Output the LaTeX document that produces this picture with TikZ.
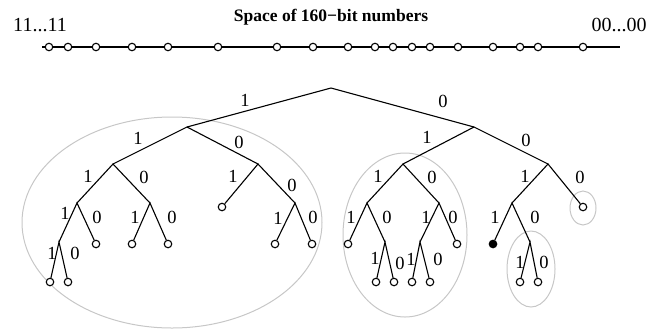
\documentclass[tikz,border=0pt]{standalone}
\usepackage{fontspec}
\setmainfont{Liberation Serif}
\begin{document}
\begin{tikzpicture}[x=1pt,y=-1pt,
  edge/.style={line width=1.1pt},
  leaf/.style={circle,draw,line width=1.1pt,fill=white,inner sep=0pt,minimum size=7.5pt},
  hit/.style={leaf,fill=black},
  key/.style={circle,draw,line width=1.1pt,fill=white,inner sep=0pt,minimum size=7.5pt},
  bit/.style={inner sep=0pt,font=\fontsize{18.5}{18.5}\selectfont},
  ends/.style={inner sep=0pt,font=\fontsize{20}{20}\selectfont},
  group/.style={draw=black!22,line width=1pt}]
\useasboundingbox (0,0) rectangle (663,333);

% ---- the identifier space ----
\node[inner sep=0pt,font=\fontsize{17.5}{17.5}\selectfont\bfseries] (title) at (331,17) {Space of 160\textminus bit numbers};
\node[ends] (hi) at (40,25) {11...11};
\node[ends] (lo) at (619,25) {00...00};
\coordinate (s0) at (42,47);
\coordinate (s1) at (620,47);
\draw[edge] (s0) -- (s1);
\foreach \x [count=\i] in {49,68,96,132,168,218,277,313,348,375,393,412,430,458,493,520,538,583}
  \node[key] (k\i) at (\x,47) {};

% ---- subtree groups ----
\draw[group] (172,222.5) ellipse [x radius=150, y radius=105.5];
\draw[group] (405,235) ellipse [x radius=62, y radius=82];
\draw[group] (583,208) ellipse [x radius=13, y radius=17];
\draw[group] (531,269) ellipse [x radius=24, y radius=38];

% ---- tree nodes ----
\coordinate (r) at (331,88);
\coordinate (a) at (187,127);
\coordinate (b) at (474,127);
\coordinate (aa) at (113,164);
\coordinate (ab) at (258,164);
\coordinate (aaa) at (77,203);
\coordinate (aab) at (150,203);
\coordinate (abb) at (295,203);
\coordinate (aaaa) at (59,242);
\coordinate (ba) at (403,164);
\coordinate (bb) at (548,164);
\coordinate (baa) at (367,203);
\coordinate (bab) at (439,203);
\coordinate (bba) at (512,203);
\coordinate (baab) at (385,242);
\coordinate (baba) at (420,242);
\coordinate (bbab) at (530,242);

\node[leaf] (aaaaa) at (50,282) {};
\node[leaf] (aaaab) at (68,282) {};
\node[leaf] (aaab) at (96,244) {};
\node[leaf] (aaba) at (132,244) {};
\node[leaf] (aabb) at (168,244) {};
\node[leaf] (aba) at (222,207) {};
\node[leaf] (abba) at (275,244) {};
\node[leaf] (abbb) at (312,244) {};
\node[leaf] (baaa) at (348,244) {};
\node[leaf] (baaba) at (376,282) {};
\node[leaf] (baabb) at (394,282) {};
\node[leaf] (babaa) at (412,282) {};
\node[leaf] (babab) at (430,282) {};
\node[leaf] (babb) at (457,244) {};
\node[hit]  (bbaa) at (493,244) {};
\node[leaf] (bbaba) at (520,282) {};
\node[leaf] (bbabb) at (538,282) {};
\node[leaf] (bbb) at (583,207) {};

% ---- tree edges ----
\draw[edge] (a) -- (r) -- (b);
\draw[edge] (aa) -- (a) -- (ab);
\draw[edge] (aaa) -- (aa) -- (aab);
\draw[edge] (aaaa) -- (aaa) -- (aaab);
\draw[edge] (aaaaa) -- (aaaa) -- (aaaab);
\draw[edge] (aaba) -- (aab) -- (aabb);
\draw[edge] (aba) -- (ab) -- (abb);
\draw[edge] (abba) -- (abb) -- (abbb);
\draw[edge] (ba) -- (b) -- (bb);
\draw[edge] (baa) -- (ba) -- (bab);
\draw[edge] (baaa) -- (baa) -- (baab);
\draw[edge] (baaba) -- (baab) -- (baabb);
\draw[edge] (baba) -- (bab) -- (babb);
\draw[edge] (babaa) -- (baba) -- (babab);
\draw[edge] (bba) -- (bb) -- (bbb);
\draw[edge] (bbaa) -- (bba) -- (bbab);
\draw[edge] (bbaba) -- (bbab) -- (bbabb);

% ---- edge bits ----
\node[bit] (la) at (245,100) {1};
\node[bit] (lb) at (443,101) {0};
\node[bit] (laa) at (138,138) {1};
\node[bit] (lab) at (239,142) {0};
\node[bit] (laaa) at (88,176) {1};
\node[bit] (laab) at (144,177) {0};
\node[bit] (laba) at (233,176) {1};
\node[bit] (labb) at (292,185) {0};
\node[bit] (laaaa) at (65,213) {1};
\node[bit] (laaab) at (97,217) {0};
\node[bit] (laaba) at (135,217) {1};
\node[bit] (laabb) at (172,217) {0};
\node[bit] (labba) at (278,218) {1};
\node[bit] (labbb) at (313,217) {0};
\node[bit] (laaaaa) at (52,253) {1};
\node[bit] (laaaab) at (75,253) {0};
\node[bit] (lba) at (427,137) {1};
\node[bit] (lbb) at (526,140) {0};
\node[bit] (lbaa) at (378,176) {1};
\node[bit] (lbab) at (432,177) {0};
\node[bit] (lbaaa) at (351,217) {1};
\node[bit] (lbaab) at (387,217) {0};
\node[bit] (lbaba) at (426,217) {1};
\node[bit] (lbabb) at (453,217) {0};
\node[bit] (lbaaba) at (375,258) {1};
\node[bit] (lbaabb) at (400,263) {0};
\node[bit] (lbabaa) at (411,259) {1};
\node[bit] (lbabab) at (438,259) {0};
\node[bit] (lbba) at (525,176) {1};
\node[bit] (lbbb) at (580,177) {0};
\node[bit] (lbbaa) at (495,217) {1};
\node[bit] (lbbab) at (535,217) {0};
\node[bit] (lbbaba) at (520,262) {1};
\node[bit] (lbbabb) at (544,262) {0};
\end{tikzpicture}
\end{document}
